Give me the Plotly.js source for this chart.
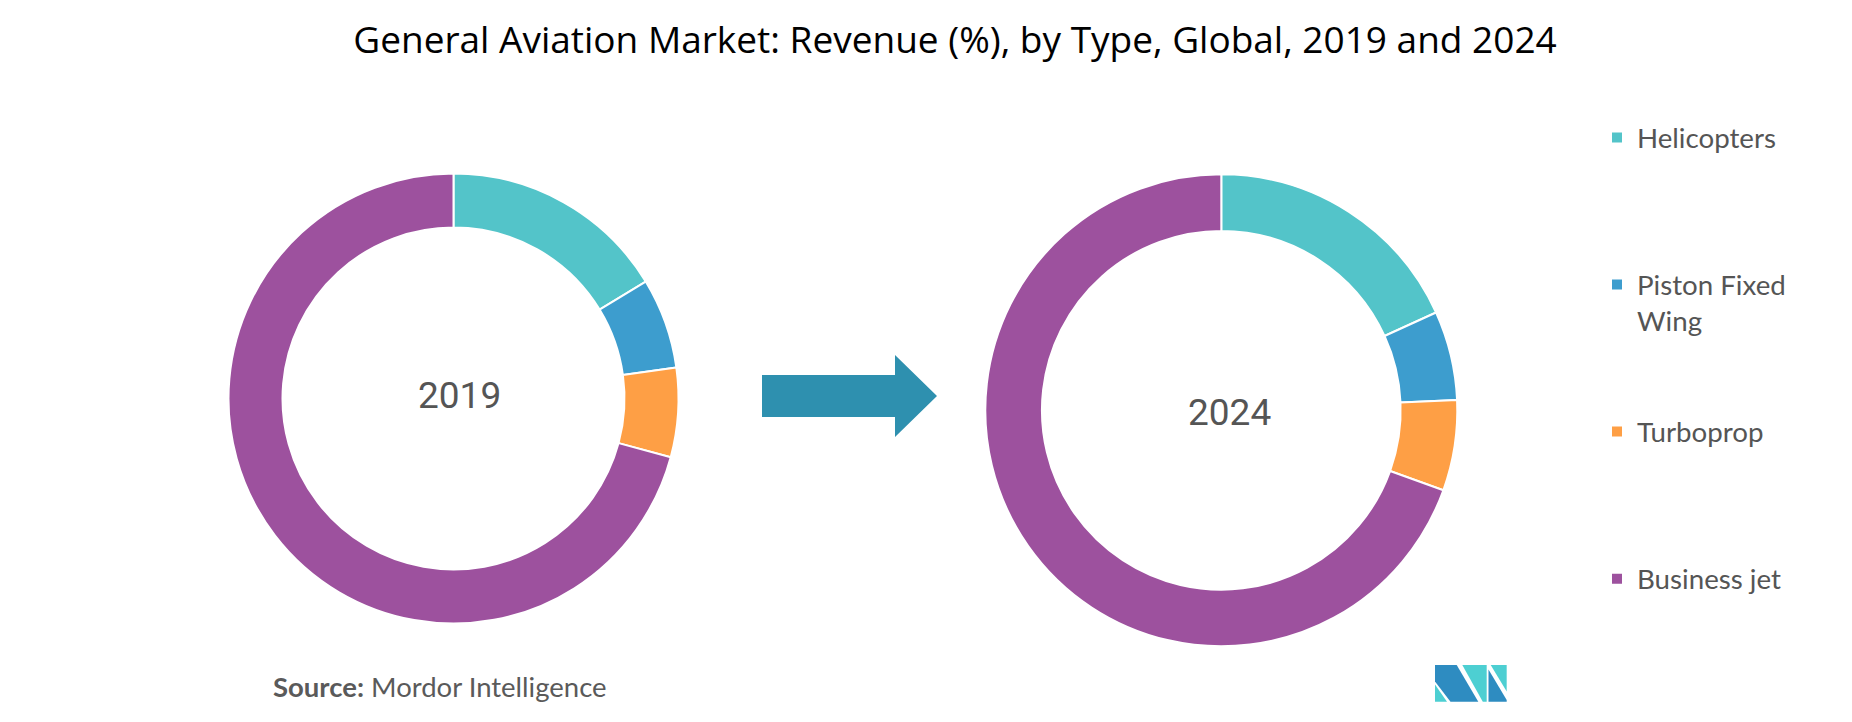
<!DOCTYPE html>
<html>
<head>
<meta charset="utf-8">
<script src="https://cdn.plot.ly/plotly-3.0.1.min.js"></script>
<style>html,body{margin:0;padding:0;background:#fff;}#chart{width:1852px;height:722px;}</style>
</head>
<body>
<div id="chart"></div>
<script>
// ---- data ----
const categories = ['Helicopters', 'Piston Fixed<br>Wing', 'Turboprop', 'Business jet'];
const values2019 = [16.3, 6.5, 6.4, 70.8];
const values2024 = [18.2, 6.1, 6.2, 69.5];
const years = ['2019', '2024'];
const sliceColors = ['#53C4C9', '#3D9DCE', '#FE9F45', '#9D519E'];
const sourceLabel = '<b>Source:</b> Mordor Intelligence';
const chartTitle = 'General Aviation Market: Revenue (%), by Type, Global, 2019 and 2024';

// ---- layout helpers ----
const W = 1852, H = 722;
const px = x => x / W;
const py = y => (H - y) / H;
// legend spacing: pad every label to the same number of lines
const LINES = 4;
const legendLabels = categories.map(c => {
  const n = c.split('<br>').length;
  return c + '<br>\u00a0'.repeat(LINES - n);
});

function pie(values, cx, cy, r, showlegend) {
  return {
    type: 'pie',
    labels: legendLabels,
    values: values,
    sort: false,
    direction: 'clockwise',
    rotation: 0,
    hole: 0.76,
    textinfo: 'none',
    hoverinfo: 'label+percent',
    marker: {colors: sliceColors, line: {color: '#ffffff', width: 2}},
    domain: {x: [px(cx - r), px(cx + r)], y: [py(cy + r), py(cy - r)]},
    showlegend: showlegend
  };
}

const traces = [
  pie(values2019, 453.5, 398.5, 225, true),
  pie(values2024, 1221.3, 410.3, 236, false)
];

function poly(pts) {
  return 'M' + pts.map(p => px(p[0]) + ',' + py(p[1])).join('L') + 'Z';
}

const arrow = [[762,375],[895,375],[895,355],[937,396],[895,437],[895,417],[762,417]];
const logoDark = '#2E8CC1', logoTeal = '#4DCFD2';
const logoParts = [
  {c: logoDark, p: [[1435,665],[1456.7,665],[1478.3,701.7],[1450.5,701.7],[1435,681.5]]},
  {c: logoTeal, p: [[1435,684.5],[1435,701.7],[1447,701.7]]},
  {c: logoTeal, p: [[1462.3,665],[1486.7,665],[1486.7,701.7],[1482.8,701.7]]},
  {c: logoTeal, p: [[1490.7,665],[1506.7,665],[1506.7,691.5]]},
  {c: logoDark, p: [[1488.5,669.5],[1506.7,700],[1506.7,701.7],[1488.5,701.7]]}
];

const shapes = [
  {type: 'path', xref: 'paper', yref: 'paper', path: poly(arrow), fillcolor: '#2E90AF', line: {width: 0}}
].concat(logoParts.map(l => ({type: 'path', xref: 'paper', yref: 'paper', path: poly(l.p), fillcolor: l.c, line: {width: 0}})));

const annotations = [
  {text: years[0], x: px(459), y: py(395.5), xref: 'paper', yref: 'paper', xanchor: 'center', yanchor: 'middle', showarrow: false,
   font: {family: 'Roboto', size: 37, color: '#555555'}},
  {text: years[1], x: px(1229.2), y: py(412.2), xref: 'paper', yref: 'paper', xanchor: 'center', yanchor: 'middle', showarrow: false,
   font: {family: 'Roboto', size: 37, color: '#555555'}},
  {text: sourceLabel, x: px(271), y: py(686), xref: 'paper', yref: 'paper', xanchor: 'left', yanchor: 'middle', showarrow: false,
   font: {family: 'Lato', size: 27.5, color: '#5a5a5a'}}
];

const layout = {
  width: W, height: H,
  margin: {l: 0, r: 0, t: 0, b: 0, autoexpand: false},
  paper_bgcolor: '#ffffff',
  plot_bgcolor: '#ffffff',
  title: {text: chartTitle, font: {family: 'Open Sans', size: 37, color: '#000000'},
          x: px(955), xref: 'container', xanchor: 'center', y: 1 - 39.7 / H, yref: 'container', yanchor: 'middle'},
  legend: {
    xref: 'container', yref: 'container',
    x: px(1597), y: py(113), xanchor: 'left', yanchor: 'top',
    valign: 'top',
    maxheight: 720,
    font: {family: 'Lato', size: 27.7, color: '#555555'},
    bgcolor: 'rgba(0,0,0,0)', borderwidth: 0,
    traceorder: 'normal'
  },
  shapes: shapes,
  annotations: annotations
};

Plotly.newPlot('chart', traces, layout, {displayModeBar: false, staticPlot: true});
</script>
</body>
</html>
